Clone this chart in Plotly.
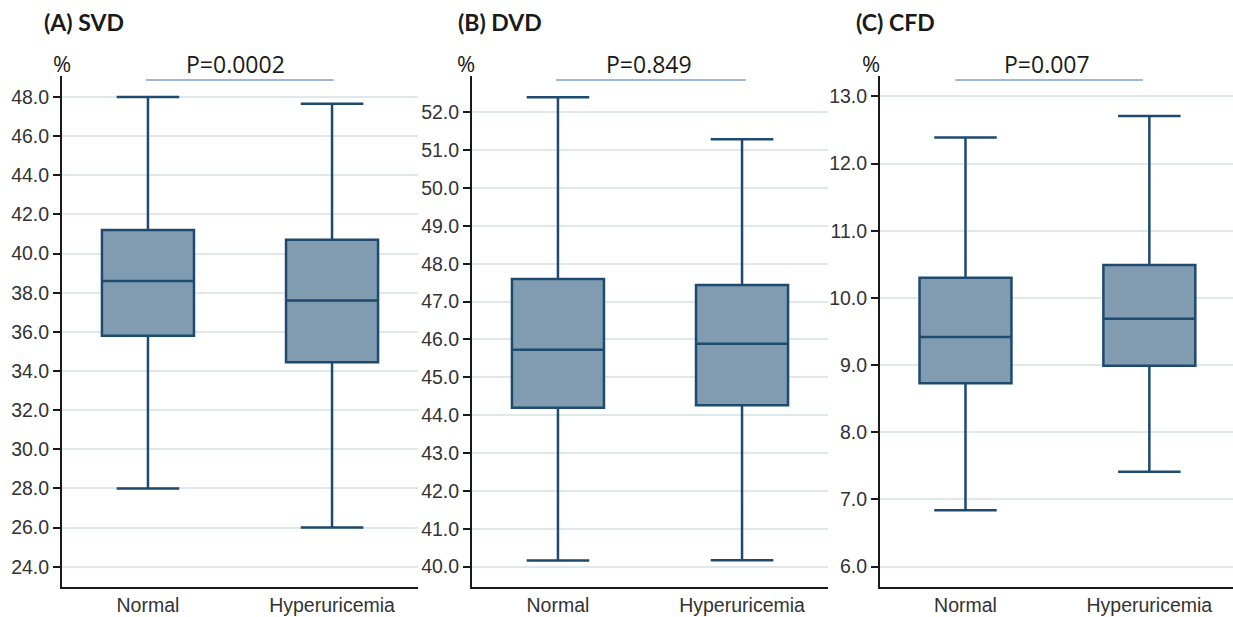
import plotly.graph_objects as go

W, H = 1233, 617

categories = ["Normal", "Hyperuricemia"]

# Panel A: SVD
svd_lower = [28.0, 26.0]
svd_q1 = [35.8, 34.45]
svd_median = [38.6, 37.6]
svd_q3 = [41.2, 40.7]
svd_upper = [48.0, 47.65]

# Panel B: DVD
dvd_lower = [40.16, 40.17]
dvd_q1 = [44.2, 44.26]
dvd_median = [45.73, 45.89]
dvd_q3 = [47.6, 47.44]
dvd_upper = [52.4, 51.29]

# Panel C: CFD
cfd_lower = [6.84, 7.41]
cfd_q1 = [8.73, 8.99]
cfd_median = [9.42, 9.69]
cfd_q3 = [10.3, 10.49]
cfd_upper = [12.39, 12.71]

titles = ["(A) SVD", "(B) DVD", "(C) CFD"]
pvalues = ["P=0.0002", "P=0.849", "P=0.007"]

y_ticks_a = [24, 26, 28, 30, 32, 34, 36, 38, 40, 42, 44, 46, 48]
y_ticks_b = [40, 41, 42, 43, 44, 45, 46, 47, 48, 49, 50, 51, 52]
y_ticks_c = [6, 7, 8, 9, 10, 11, 12, 13]

panels = [
    dict(lo=svd_lower, q1=svd_q1, med=svd_median, q3=svd_q3, hi=svd_upper,
         ticks=y_ticks_a, yrange=[22.98, 49.07], px=(62, 418),
         xrange=[-0.467, 1.467], title_x=42, pct_x=62, p_x=235, line=(-0.011, 1.009)),
    dict(lo=dvd_lower, q1=dvd_q1, med=dvd_median, q3=dvd_q3, hi=dvd_upper,
         ticks=y_ticks_b, yrange=[39.47, 52.96], px=(472, 828),
         xrange=[-0.467, 1.467], title_x=456, pct_x=466, p_x=649, line=(-0.01, 1.02)),
    dict(lo=cfd_lower, q1=cfd_q1, med=cfd_median, q3=cfd_q3, hi=cfd_upper,
         ticks=y_ticks_c, yrange=[5.70, 13.305], px=(880, 1233),
         xrange=[-0.465, 1.455], title_x=854, pct_x=871, p_x=1047, line=(-0.055, 0.965)),
]

fill_col = "rgb(129,156,176)"
edge_col = "#1d4a6e"
grid_col = "#e0e9ea"
tick_font = dict(family="Liberation Sans, Arial", size=19.5, color="#333333")

y_top_px, y_bot_px = 76, 586.7
ydom = [1 - y_bot_px / H, 1 - y_top_px / H]

fig = go.Figure()
annotations = []
shapes = []
for i, p in enumerate(panels):
    n = "" if i == 0 else str(i + 1)
    xa, ya = "x" + n, "y" + n
    fig.add_trace(go.Box(
        x=categories, q1=p["q1"], median=p["med"], q3=p["q3"],
        lowerfence=p["lo"], upperfence=p["hi"],
        width=0.5, whiskerwidth=0.68,
        fillcolor=fill_col, line=dict(color=edge_col, width=2.5),
        boxpoints=False, showlegend=False, hoverinfo="skip",
        xaxis=xa, yaxis=ya,
    ))
    dom = [p["px"][0] / W, min(p["px"][1] / W, 1.0)]
    fig.update_layout(**{
        "xaxis" + n: dict(domain=dom, range=p["xrange"], type="category",
                          categoryorder="array", categoryarray=categories,
                          showline=True, linecolor="#1a1a1a", linewidth=2,
                          ticks="", showgrid=False, zeroline=False,
                          tickfont=tick_font, anchor=ya),
        "yaxis" + n: dict(domain=ydom, range=p["yrange"], tickvals=p["ticks"],
                          ticktext=[f"{v:.1f}" for v in p["ticks"]],
                          showline=True, linecolor="#1a1a1a", linewidth=2,
                          ticks="outside", ticklen=7, tickwidth=2, tickcolor="#1a1a1a",
                          showgrid=True, gridcolor=grid_col, gridwidth=2,
                          zeroline=False, tickfont=tick_font, anchor=xa),
    })
    annotations.append(dict(text="<b>" + titles[i] + "</b>", x=p["title_x"] / W, y=1 - 22 / H,
                            xref="paper", yref="paper", xanchor="left", yanchor="middle",
                            showarrow=False, font=dict(family="Lato", size=23, color="#1a1a1a")))
    annotations.append(dict(text="%", x=p["pct_x"] / W, y=1 - 63 / H,
                            xref="paper", yref="paper", xanchor="center", yanchor="middle",
                            showarrow=False, font=dict(family="Open Sans", size=22, color="#1a1a1a")))
    annotations.append(dict(text=pvalues[i], x=p["p_x"] / W, y=1 - 64 / H,
                            xref="paper", yref="paper", xanchor="center", yanchor="middle",
                            showarrow=False, font=dict(family="Open Sans", size=23, color="#1a1a1a")))
    shapes.append(dict(type="line", xref=xa, yref="paper",
                       x0=p["line"][0], x1=p["line"][1], y0=1 - 80 / H, y1=1 - 80 / H,
                       line=dict(color="#3f6fb5", width=1)))

fig.update_layout(width=W, height=H, margin=dict(l=0, r=0, t=0, b=0),
                  paper_bgcolor="white", plot_bgcolor="white",
                  annotations=annotations, shapes=shapes)

fig.write_html("out.html", config={"displayModeBar": False},
               post_script="document.body.style.margin='0';document.body.style.padding='0';")
